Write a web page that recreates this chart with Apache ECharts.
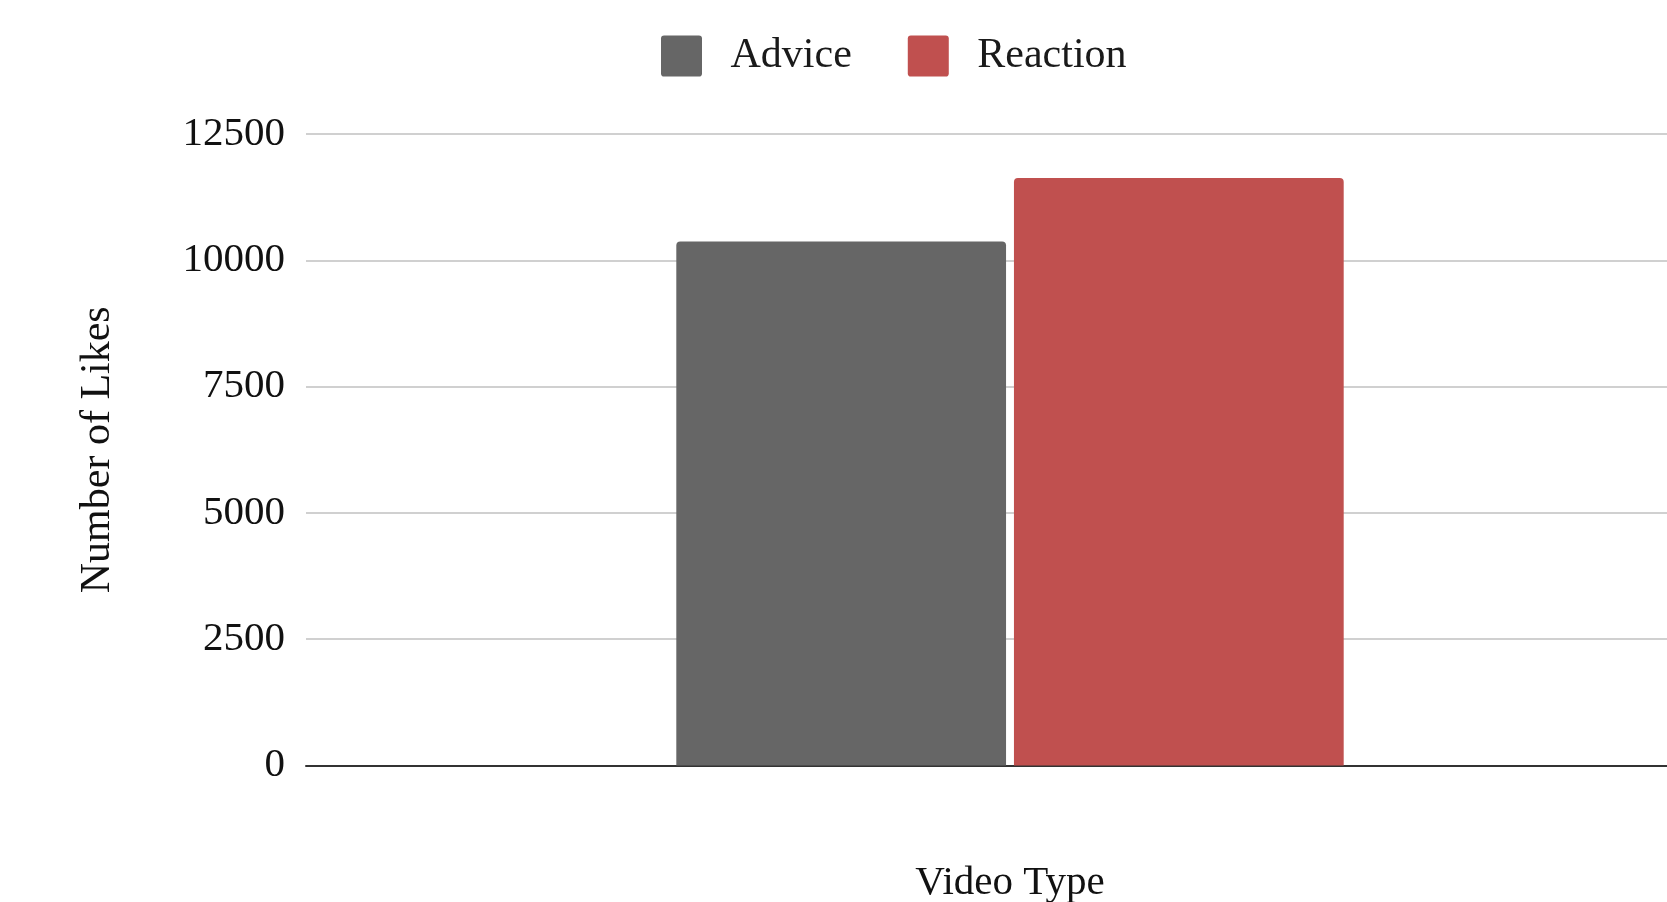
<!DOCTYPE html>
<html><head><meta charset="utf-8">
<script src="https://cdn.jsdelivr.net/npm/echarts@6/dist/echarts.min.js"></script>
<style>html,body{margin:0;padding:0;background:#fff}#c{width:1667px;height:902px}</style>
</head><body><div id="c"></div>
<script>
const categories = [''];
const seriesNames = ['Advice', 'Reaction'];
const adviceValues = [10370];
const reactionValues = [11630];
const yTicks = [0, 2500, 5000, 7500, 10000, 12500];

const font = 'Liberation Serif';
const sq = 'path://M3,0 H37 Q40,0 40,3 V37 Q40,40 37,40 H3 Q0,40 0,37 V3 Q0,0 3,0 Z';
const chart = echarts.init(document.getElementById('c'));
chart.setOption({
  animation: false,
  backgroundColor: '#fff',
  textStyle: { fontFamily: font },
  legend: {
    top: 30, left: 656, itemWidth: 42, itemHeight: 41, itemGap: 56,
    icon: sq,
    textStyle: { fontFamily: font, fontSize: 42, color: '#1a1a1a', padding: [0, 0, 0, 23] },
    data: seriesNames
  },
  grid: { left: 306, width: 1408, top: 134, height: 631.5, containLabel: false, outerBoundsMode: 'none' },
  xAxis: {
    type: 'category', data: categories,
    name: 'Video Type', nameLocation: 'middle', nameGap: 97,
    nameTextStyle: { fontFamily: font, fontSize: 41, color: '#111' },
    axisLine: { lineStyle: { color: '#333', width: 2 } },
    axisTick: { show: false }, axisLabel: { show: false }
  },
  yAxis: {
    type: 'value', min: yTicks[0], max: yTicks[yTicks.length - 1], interval: 2500,
    name: 'Number of Likes', nameLocation: 'middle', nameGap: 187, nameRotate: 90,
    nameTextStyle: { fontFamily: font, fontSize: 42, color: '#111' },
    axisLine: { show: false }, axisTick: { show: false },
    axisLabel: { fontFamily: font, fontSize: 41, color: '#111', margin: 21, formatter: v => String(v) },
    splitLine: { lineStyle: { color: '#d0d0d0', width: 2 } }
  },
  series: [
    { name: seriesNames[0], type: 'bar', data: adviceValues, barCategoryGap: '52.6%', barGap: '2.4%',
      itemStyle: { color: '#666666', borderRadius: [4, 4, 0, 0] } },
    { name: seriesNames[1], type: 'bar', data: reactionValues,
      itemStyle: { color: '#C0504F', borderRadius: [4, 4, 0, 0] } }
  ]
});
</script></body></html>
